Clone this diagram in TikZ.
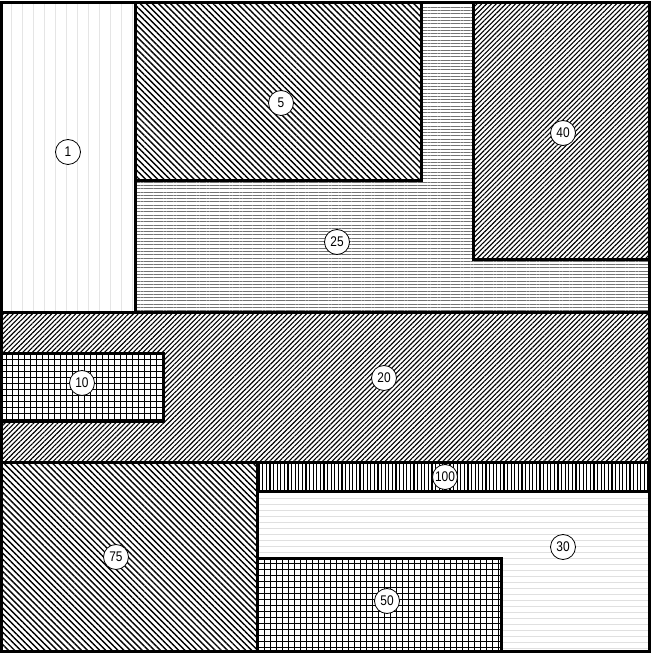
\documentclass[tikz,border=0pt]{standalone}
\usepackage{fontspec}
\usetikzlibrary{patterns.meta}
\newfontfamily\lblfont[FakeStretch=0.85]{Liberation Sans}
\tikzset{
  edge/.style={line width=3pt, line join=miter},
  lbl/.style={circle, draw=black, line width=0.8pt, fill=white, minimum size=25pt, inner sep=0pt, font=\lblfont\fontsize{14}{14}\selectfont},
  back/.style={preaction={fill=white}},
  hatchA/.style={back, pattern={Lines[angle=-45,distance=4.3pt,line width=1.4pt]}},
  hatchB/.style={back, pattern={Lines[angle=45,distance=3.4pt,line width=1.1pt]}},
  horiz/.style={back, pattern={Lines[angle=0,distance=3.3pt,line width=0.9pt]}, pattern color=black!55},
  vert/.style={back, pattern={Lines[angle=90,distance=3.6pt,line width=1.2pt]}},
  gridp/.style={back, pattern={Hatch[angle=0,distance=6pt,line width=1pt]}},
  faintv/.style={back, pattern={Lines[angle=90,distance=11pt,line width=0.5pt]}, pattern color=black!10},
  fainth/.style={back, pattern={Lines[angle=0,distance=6pt,line width=0.5pt]}, pattern color=black!12}
}
\begin{document}
\begin{tikzpicture}[x=1pt,y=1pt]
\useasboundingbox (0,0) rectangle (651,654);
\fill[white] (0,0) rectangle (651,654);
% region fills
\path[faintv] (1.5,341) rectangle (135,651);
\path[hatchA] (135,473) rectangle (421,651);
\path[hatchB] (473,394) rectangle (649.5,651);
\path[horiz] (421,651) -- (473,651) -- (473,394) -- (649.5,394) -- (649.5,341) -- (135,341) -- (135,473) -- (421,473) -- cycle;
\path[hatchB] (1.5,191) rectangle (649.5,341);
\path[gridp] (1.5,232) rectangle (163,300);
\path[hatchA] (1.5,2.5) rectangle (257,191);
\path[vert] (257,162) rectangle (649.5,191);
\path[fainth] (257,2.5) rectangle (649.5,162);
\path[gridp] (257,2.5) rectangle (501,95);
% borders
\draw[edge] (1.5,2.5) rectangle (649.5,651);
\draw[edge] (135,651) -- (135,341);
\draw[edge] (135,473) -- (421,473) -- (421,651);
\draw[edge] (473,651) -- (473,394) -- (649.5,394);
\draw[edge] (1.5,341) -- (649.5,341);
\draw[edge] (1.5,300) -- (163,300) -- (163,232) -- (1.5,232);
\draw[edge] (1.5,191) -- (649.5,191);
\draw[edge] (257,2.5) -- (257,191);
\draw[edge] (257,162) -- (649.5,162);
\draw[edge] (257,95) -- (501,95) -- (501,2.5);
% labels
\node[lbl] (l1) at (68,502) {1};
\node[lbl] (l5) at (281,551) {5};
\node[lbl] (l40) at (563,521) {40};
\node[lbl] (l25) at (337,412) {25};
\node[lbl] (l10) at (82,271) {10};
\node[lbl] (l20) at (384,276) {20};
\node[lbl] (l100) at (445,177) {100};
\node[lbl] (l30) at (563,107) {30};
\node[lbl] (l50) at (387,53) {50};
\node[lbl] (l75) at (116,97) {75};
\end{tikzpicture}
\end{document}
